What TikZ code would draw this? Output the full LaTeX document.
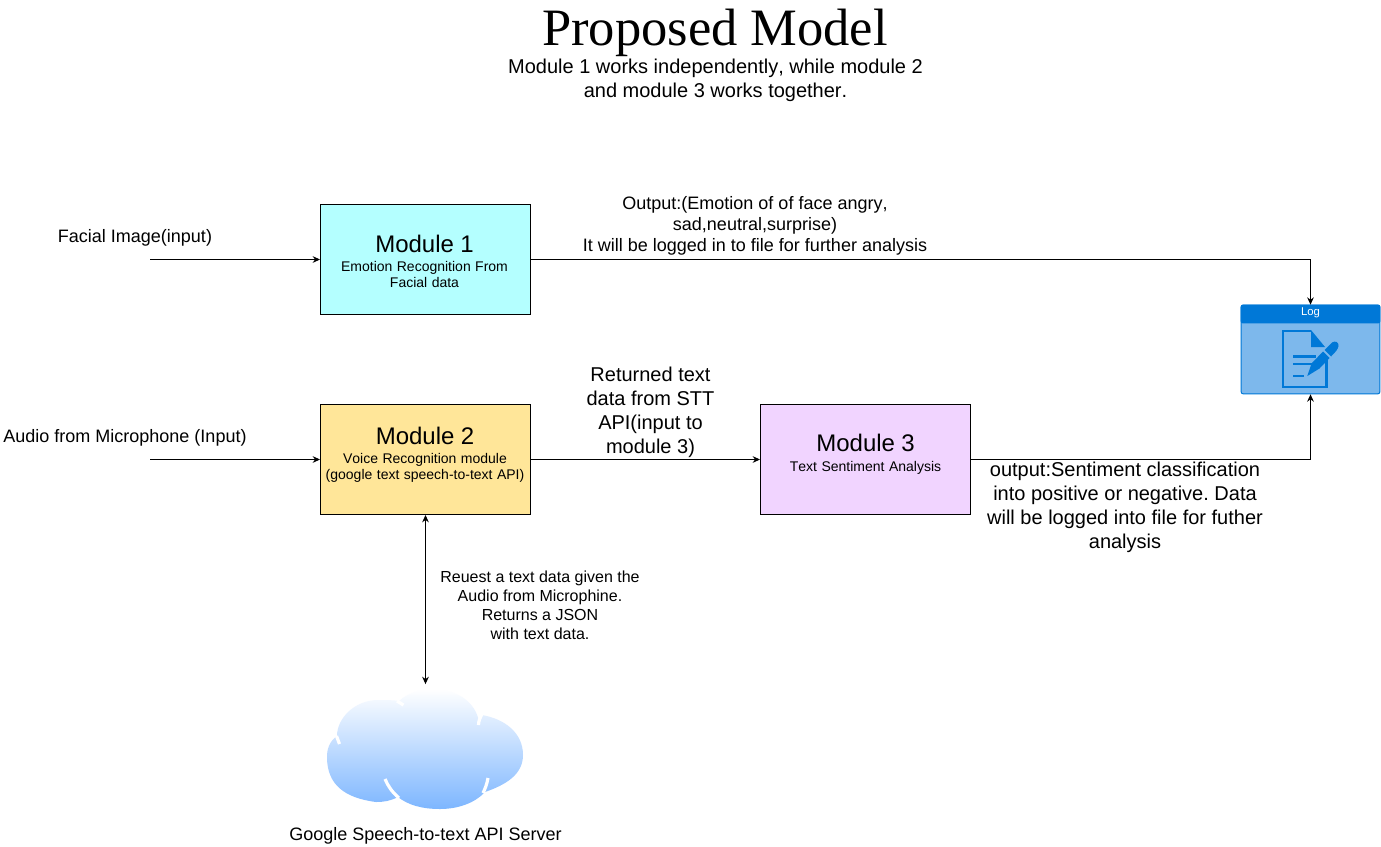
\documentclass[tikz,border=0pt]{standalone}
\usepackage{fontspec}
\setmainfont[Kerning=Off]{Liberation Sans}
\newfontfamily\titlefont{Liberation Serif}
\usetikzlibrary{arrows.meta}
\definecolor{logdark}{HTML}{0078D7}
\definecolor{loglight}{HTML}{7DB8EC}
\newcommand{\px}[2]{\fontsize{#1}{#2}\selectfont}
\frenchspacing
\tikzset{
  x=0.75pt,y=-0.75pt,
  module/.style={draw=black,line width=0.75pt,minimum width=157.5pt,minimum height=82.5pt,inner sep=0pt},
  modtext/.style={inner sep=0pt,align=center,text width=157.5pt},
  lbl/.style={inner sep=0pt,align=center,font=\px{13.5}{15.75}},
  biglbl/.style={inner sep=0pt,align=center,font=\px{15}{18}},
  conn/.style={line width=0.75pt,-{Stealth[length=5.5pt,width=5pt]}},
  slit/.style={white,line width=2.4pt},
}
\newcommand{\modlines}[3]{{\px{18}{21}Module\kern1.4pt\ #1}\\[#2]{\px{10.5}{13.5}#3}}
\begin{document}
\begin{tikzpicture}
\useasboundingbox (0,0) rectangle (1381,846);
\fill[white] (0,0) rectangle (1381,846);

% title
\node[inner sep=0pt,font=\titlefont\px{39.4}{44}] (title) at (715,33) {Proposed Model};
\node[biglbl] (sub) at (715.5,80) {Module 1 works independently, while module 2\\and module 3 works together.};

% modules
\node[module,fill={rgb,255:red,180;green,255;blue,255}] (m1) at (425.5,259.5) {};
\node[modtext] (m1t) at (424.5,261) {\modlines{1}{0.75pt}{Emotion Recognition From\\Facial data}};
\node[module,fill={rgb,255:red,255;green,230;blue,153}] (m2) at (425.5,459.5) {};
\node[modtext] (m2t) at (425,455) {\modlines{2}{0.75pt}{Voice Recognition module\\(google text speech-to-text API)}};
\node[module,fill={rgb,255:red,241;green,212;blue,255}] (m3) at (865.5,459.5) {};
\node[modtext] (m3t) at (865.5,454.5) {\modlines{3}{3pt}{Text Sentiment Analysis}};

% log
\node[draw=logdark,fill=loglight,line width=0.75pt,rounded corners=1.5pt,minimum width=104pt,minimum height=66.5pt,inner sep=0pt] (log) at (1310.5,349.5) {};
\fill[logdark,rounded corners=1.5pt] (log.north west) -- (log.north east) -- ([yshift=-14pt]log.north east) -- ([yshift=-14pt]log.north west) -- cycle;
\node[inner sep=0pt,text=white,font=\px{8.5}{10}] (logt) at (1310.5,313) {Log};
% log icon
\draw[logdark,line width=1.8pt,line join=miter] (1326.5,360) -- (1326.5,387) -- (1283,387) -- (1283,331) -- (1311,331);
\fill[logdark] (1311,330) -- (1325,347) -- (1311,347) -- cycle;
\fill[logdark] (1293,355) rectangle (1316,357.5);
\fill[logdark] (1293,362.5) rectangle (1312,365);
\fill[logdark] (1293,374.5) rectangle (1304,377);
\fill[logdark] (1307.3,376) -- (1311.5,363.5) -- (1323,351.5) -- (1329.5,358) -- (1319.5,368.5) -- cycle;
\fill[logdark] (1324.5,350) -- (1332,342.5) .. controls (1335,340.5) and (1339,342) .. (1338.5,346) .. controls (1338,349) and (1336,351.5) .. (1331,356.5) -- cycle;

% cloud
\node[minimum width=147pt,minimum height=94pt,inner sep=0pt] (cloud) at (425,747) {};
\shade[top color=white,bottom color={rgb,255:red,125;green,182;blue,255}]
  (399,701)
  .. controls (408,693) and (420,689) .. (432,689)
  .. controls (458,689) and (476,703) .. (479,722)
  .. controls (479,719) and (480,717) .. (482,715)
  .. controls (505,719) and (523,733) .. (523,755)
  .. controls (523,775) and (505,785) .. (485,792)
  .. controls (475,803) and (458,809) .. (440,809)
  .. controls (422,809) and (408,805) .. (398,797)
  .. controls (390,801) and (384,802) .. (376,802)
  .. controls (345,798) and (327,785) .. (327,757)
  .. controls (327,748) and (330,741) .. (337,736)
  .. controls (337,718) and (355,700) .. (378,700)
  .. controls (386,700) and (393,700) .. (399,701) -- cycle;
\draw[slit] (385,779) .. controls (388,786) and (392,792) .. (399,798);
\draw[slit] (483,793) .. controls (485,789) and (487,784) .. (488,778);
\draw[slit] (397,701) -- (403.5,705);
\draw[slit] (478.5,725) .. controls (478.5,721) and (480,718) .. (482,714);
\draw[slit] (336.5,736) -- (339.5,744);

% labels
\node[lbl] (l1) at (135,238) {Facial Image(input)};
\node[lbl] (l2) at (125,438) {Audio from Microphone (Input)};
\node[lbl] (o1) at (755,226) {Output:(Emotion of of face angry,\\sad,neutral,surprise)\\It will be logged in to file for further analysis};
\node[biglbl] (o2) at (650.5,412) {Returned text\\data from STT\\API(input to\\module 3)};
\node[biglbl] (o3) at (1125,507.5) {output:Sentiment classification\\into positive or negative. Data\\will be logged into file for futher\\analysis};
\node[inner sep=0pt,align=center,font=\px{12}{14.25}] (o4) at (540,605) {Reuest a text data given the\\Audio from Microphine.\\Returns a JSON\\with text data.};
\node[lbl] (l3) at (425.5,836) {Google Speech-to-text API Server};

% connectors
\coordinate (in1) at (150,259.5);
\coordinate (in2) at (150,459.5);
\draw[conn] (in1) -- (m1.west);
\draw[conn] (in2) -- (m2.west);
\draw[conn] (m1.east) -| (log.north);
\draw[conn] (m2.east) -- (m3.west);
\draw[conn] (m3.east) -| (log.south);
\draw[line width=0.75pt,{Stealth[length=5.5pt,width=5pt]}-{Stealth[length=5.5pt,width=5pt]}] (m2.south) -- (m2.south |- cloud.north);
\end{tikzpicture}
\end{document}
